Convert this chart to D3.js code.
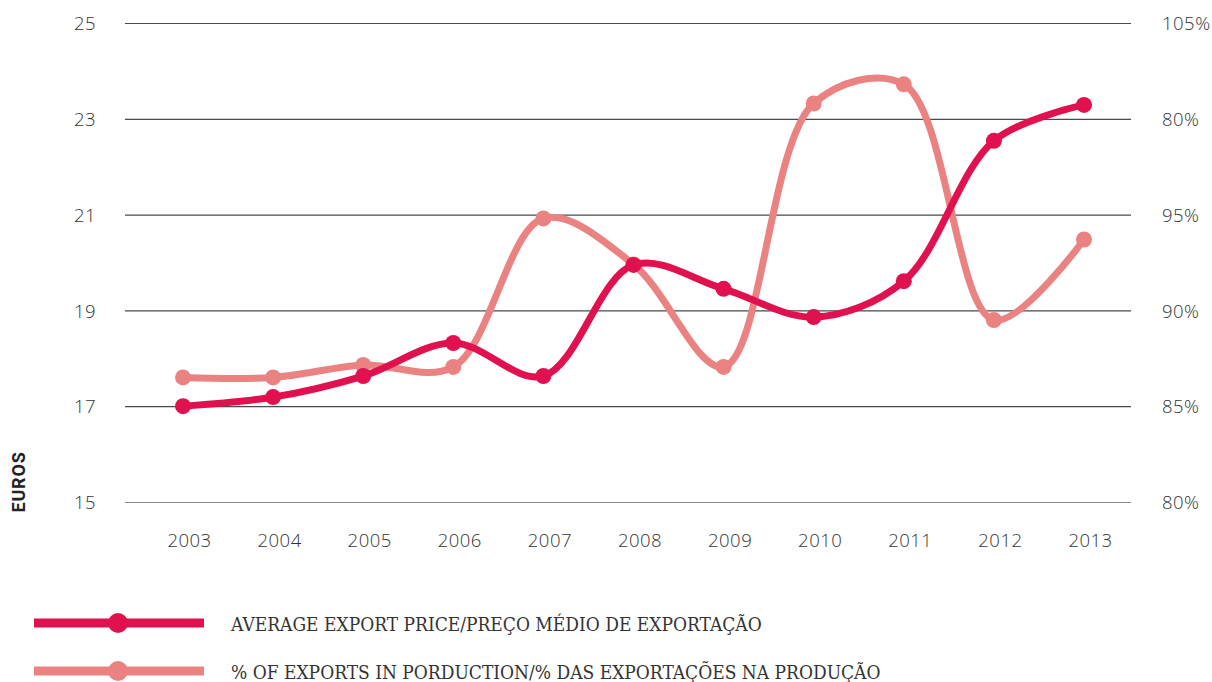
<!DOCTYPE html>
<html><head><meta charset="utf-8">
<script src="https://cdn.jsdelivr.net/npm/d3@7"></script>
<style>
body{margin:0;background:#fff;}
svg{display:block;}
</style></head>
<body>
<svg id="c" width="1212" height="682"></svg>
<script>
const years = ["2003","2004","2005","2006","2007","2008","2009","2010","2011","2012","2013"];
const price = [17.0,17.19,17.63,18.32,17.63,19.95,19.45,18.86,19.61,22.54,23.29];
const share = [86.5,86.5,87.15,87.05,94.8,92.4,87.05,100.8,101.8,89.5,93.7];
const leftTicks = [15,17,19,21,23,25];
const rightTickValues = [80,85,90,95,100,105];
const rightTickLabels = ["80%","85%","90%","95%","80%","105%"];
const legendLabels = ["AVERAGE EXPORT PRICE/PREÇO MÉDIO DE EXPORTAÇÃO","% OF EXPORTS IN PORDUCTION/% DAS EXPORTAÇÕES NA PRODUÇÃO"];

const dark = "#e0114e", light = "#eb8282";
const svg = d3.select("#c");
const x = d3.scalePoint().domain(years).range([183,1084]);
const yL = d3.scaleLinear().domain([15,25]).range([502,23]);
const yR = d3.scaleLinear().domain([80,105]).range([502,23]);

// grid
svg.append("g").selectAll("line").data(leftTicks).join("line")
  .attr("x1",125).attr("x2",1131)
  .attr("y1",d=>yL(d)+0.5).attr("y2",d=>yL(d)+0.5)
  .attr("stroke",d=>d===15?"#8a8a8a":"#4a4a4a").attr("stroke-width",1.2);

const tickFont = "'Open Sans', 'DejaVu Sans', sans-serif";
function styleTicks(g){
  g.select(".domain").remove();
  g.selectAll("text").attr("font-family",tickFont).attr("font-size",18.5).attr("font-weight",300)
   .attr("letter-spacing",0.5).attr("fill","#333");
}
// left axis
const gl = svg.append("g").attr("transform","translate(96,0)")
  .call(d3.axisLeft(yL).tickValues(leftTicks).tickSize(0).tickPadding(0));
styleTicks(gl);
gl.selectAll("text").attr("dy","0.36em");

// right axis
const gr = svg.append("g").attr("transform","translate(1162,0)")
  .call(d3.axisRight(yR).tickValues(rightTickValues).tickFormat((d,i)=>rightTickLabels[i]).tickSize(0).tickPadding(0));
styleTicks(gr);
gr.selectAll("text").attr("dy","0.36em");

// bottom axis
const gb = svg.append("g").attr("transform","translate(6,547)")
  .call(d3.axisBottom(x).tickSize(0).tickPadding(0));
styleTicks(gb);
gb.selectAll("text").attr("y",0).attr("dy",0);

// y title
svg.append("text").attr("transform","translate(25,482) rotate(-90)")
  .attr("text-anchor","middle").attr("font-family","Roboto, sans-serif").attr("font-weight",700)
  .attr("font-size",18).attr("letter-spacing",0.8).attr("fill","#222").text("EUROS");

const curve = d3.curveCatmullRom.alpha(0.5);
// light series
svg.append("path").datum(share)
  .attr("d", d3.line().x((d,i)=>x(years[i])).y(d=>yR(d)).curve(curve))
  .attr("fill","none").attr("stroke",light).attr("stroke-width",7).attr("stroke-linecap","round");
svg.append("g").selectAll("circle").data(share).join("circle")
  .attr("cx",(d,i)=>x(years[i])).attr("cy",d=>yR(d)).attr("r",8).attr("fill",light);

// dark series
svg.append("path").datum(price)
  .attr("d", d3.line().x((d,i)=>x(years[i])).y(d=>yL(d)).curve(curve))
  .attr("fill","none").attr("stroke",dark).attr("stroke-width",7).attr("stroke-linecap","round");
svg.append("g").selectAll("circle").data(price).join("circle")
  .attr("cx",(d,i)=>x(years[i])).attr("cy",d=>yL(d)).attr("r",8).attr("fill",dark);

// legend
const lg = svg.append("g");
[dark, light].forEach((col,i)=>{
  const yy = 623 + i*48;
  lg.append("line").attr("x1",34).attr("x2",204).attr("y1",yy).attr("y2",yy)
    .attr("stroke",col).attr("stroke-width",9);
  lg.append("circle").attr("cx",118).attr("cy",yy).attr("r",10).attr("fill",col);
  lg.append("text").attr("x",231).attr("y",yy+8)
    .attr("font-family","'DejaVu Serif Condensed','DejaVu Serif',serif").attr("font-stretch","condensed")
    .attr("font-size",19).attr("fill","#333").text(legendLabels[i]);
});
</script>
</body></html>
